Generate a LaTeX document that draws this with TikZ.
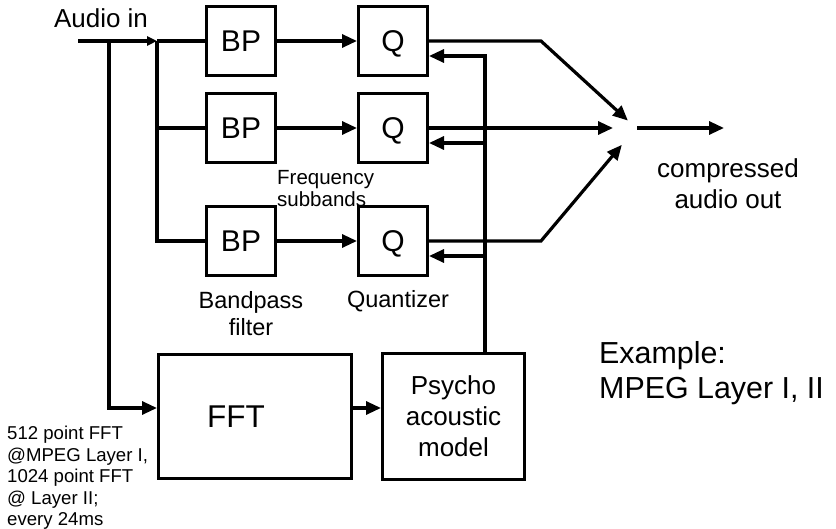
\documentclass[tikz,border=0pt]{standalone}
\usepackage{fontspec}
\setmainfont{Liberation Sans}
\usepackage{tikz}
\usetikzlibrary{
  arrows.meta,
  positioning,
  calc
}
\newcommand{\fsBlock}{\fontsize{30}{36}\selectfont}
\newcommand{\fsFFT}{\fontsize{31.5}{36}\selectfont}
\newcommand{\fsMid}{\fontsize{26}{31}\selectfont}
\newcommand{\fsLab}{\fontsize{23.5}{27}\selectfont}
\newcommand{\fsSub}{\fontsize{20.5}{22}\selectfont}
\newcommand{\fsFoot}{\fontsize{18.6}{21.5}\selectfont}
\newcommand{\fsExa}{\fontsize{30.4}{35}\selectfont}
\tikzset{
  blk/.style={
    draw, line width=3.2pt, minimum width=68.8pt, minimum height=68.8pt,
    inner sep=0pt, font=\fsBlock, align=center
  },
  stage/.style={blk, text height=21.5pt, text depth=0pt},
  wire/.style={line width=3.2pt},
  sig/.style={wire, -{Triangle[length=15pt, width=13pt]}},
  sigsmall/.style={wire, -{Triangle[length=10pt, width=9pt]}},
  note/.style={inner sep=0pt, align=left},
  notec/.style={inner sep=0pt, align=center}
}
\begin{document}
\begin{tikzpicture}[x=1pt, y=-1pt]
  \useasboundingbox (0,0) rectangle (836,529);
  % filter bank and quantizers
  \node[stage] (bp1) at (241,41) {BP};
  \node[stage] (bp2) at (241,128) {BP};
  \node[stage] (bp3) at (241,241) {BP};
  \node[stage] (q1) at (393,41) {Q};
  \node[stage] (q2) at (393,128) {Q};
  \node[stage] (q3) at (393,241) {Q};
  \node[blk, minimum width=192.8pt, minimum height=123.8pt,
    label={[font=\fsFFT, xshift=-19pt]center:FFT}] (fft) at (255,416.5) {};
  \node[blk, minimum width=141.8pt, minimum height=125.8pt, font=\fsMid]
    (psy) at (453.5,416.5) {Psycho\\acoustic\\model};
  \coordinate (in) at (78,41);
  \coordinate (tap) at (109,41);
  \coordinate (split) at (157,41);
  \coordinate (ffin) at (109,408);
  \coordinate (fb) at (485,0);
  \coordinate (k1) at (541,41);
  \coordinate (k3) at (541,241);
  \coordinate (mix) at (636,128);
  \coordinate (out) at (724,128);
  % input side
  \draw[sigsmall] (in) -- (split);
  \draw[wire] (split) -- (bp1);
  \draw[wire] (split) |- (bp3);
  \draw[wire] (split |- bp2) -- (bp2);
  \draw[sig] (tap) -- (ffin) -- (ffin -| fft.west);
  \draw[sig] (ffin -| fft.east) -- (ffin -| psy.west);
  \foreach \i in {1,2,3}
    \draw[sig] (bp\i) -- (q\i.west);
  % feedback from the model
  \draw[wire] (psy.north -| fb) -- ($(q1.east -| fb)+(0,13.4)$);
  \foreach \i in {1,2,3}
    \draw[sig] ($(q\i.east -| fb)+(0,15)$) -- ($(q\i.east)+(0,15)$);
  % outputs
  \draw[sig, shorten >=11pt] (q1) -- (k1) -- (mix);
  \draw[sig, shorten >=23pt] (q2) -- (mix);
  \draw[sig, shorten >=22pt] (q3) -- (k3) -- (mix);
  \draw[sig, shorten <=1pt] (mix) -- (out);
  % texts
  \node[note, anchor=base, font=\fsMid] (lin) at (101,28) {Audio in};
  \node[note, anchor=north west, font=\fsSub] (lsub) at (277,170.5) {Frequency\\subbands};
  \node[notec, anchor=north, font=\fsLab] (lbp) at (251,291) {Bandpass\\filter};
  \node[note, anchor=base, font=\fsLab] (lq) at (398,308) {Quantizer};
  \node[notec, anchor=north, font=\fsMid] (lout) at (728,158) {compressed\\audio out};
  \node[note, anchor=north west, font=\fsExa] (lexa) at (599,341) {Example:\\MPEG Layer I, II};
  \node[note, anchor=north west, font=\fsFoot] (lfft) at (7,426)
    {512 point FFT\\@MPEG Layer I,\\1024 point FFT\\@ Layer II;\\every 24ms};
\end{tikzpicture}
\end{document}
